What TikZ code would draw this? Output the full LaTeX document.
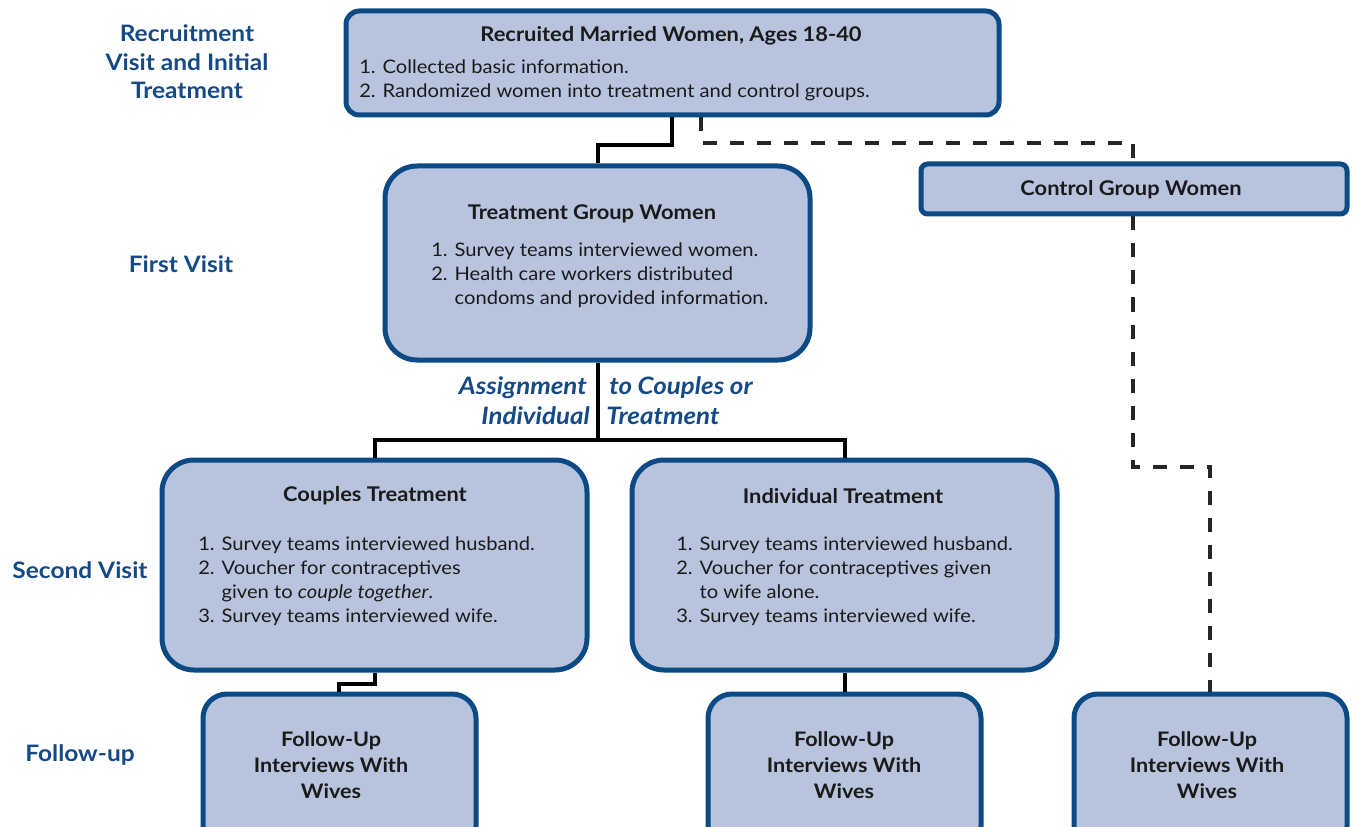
\documentclass[tikz,border=0pt]{standalone}
\usepackage{fontspec}
\setmainfont{Lato}[FakeStretch=1.08]
\usetikzlibrary{fit}
\definecolor{boxfill}{HTML}{B8C4DD}
\definecolor{boxline}{HTML}{0B4A85}
\definecolor{lbl}{HTML}{164A86}
\definecolor{txt}{HTML}{1A1A1A}
\tikzset{
  box/.style={draw=boxline, fill=boxfill, line width=3.75pt, inner sep=0pt},
  ttl/.style={font=\fontsize{15.2}{19}\selectfont\bfseries, text=txt, inner sep=0pt},
  fut/.style={font=\fontsize{15}{19.5}\selectfont\bfseries, text=txt, inner sep=0pt, align=center},
  lst/.style={font=\fontsize{14}{18}\selectfont, text=txt, align=left, inner sep=0pt, anchor=west},
  side/.style={font=\fontsize{17}{21.5}\selectfont\bfseries, text=lbl, align=center, inner sep=0pt},
  asg/.style={font=\fontsize{18}{21}\selectfont\bfseries\itshape, text=lbl, inner sep=0pt},
  conn/.style={line width=2.3pt, draw=black},
  dconn/.style={line width=2.3pt, draw=black!85, dash pattern=on 10.5pt off 9.75pt},
}
\begin{document}
\begin{tikzpicture}[x=0.75pt,y=-0.75pt]
\useasboundingbox (0,0) rectangle (1356,827);
\clip (0,0) rectangle (1356,827);
\fill[white] (0,0) rectangle (1356,827);

% boxes
\node[box, rounded corners=10pt, fit={(346,11) (999,115)}] (top) {};
\node[box, rounded corners=24pt, fit={(385,166) (810,360)}] (treat) {};
\node[box, rounded corners=5pt, fit={(921,164) (1347,214)}] (ctrl) {};
\node[box, rounded corners=24pt, fit={(162,460) (587,670)}] (coup) {};
\node[box, rounded corners=24pt, fit={(632,460) (1057,670)}] (indiv) {};
\node[box, rounded corners=18pt, fit={(203,694) (476,850)}] (fu1) {};
\node[box, rounded corners=18pt, fit={(708,694) (981,850)}] (fu2) {};
\node[box, rounded corners=18pt, fit={(1074,694) (1347,850)}] (fu3) {};

% texts in boxes
\node[ttl] (topt) at (671,36) {Recruited Married Women, Ages 18-40};
\node[lst] (topl) at (359,80) {1. Collected basic information.\\2. Randomized women into treatment and control groups.};
\node[ttl] (treatt) at (592,214) {Treatment Group Women};
\node[lst] (treatl) at (431,275) {1. Survey teams interviewed women.\\2. Health care workers distributed\\\phantom{2. }condoms and provided information.};
\node[ttl] (ctrlt) at (1131,190) {Control Group Women};
\node[ttl] (coupt) at (375,496) {Couples Treatment};
\node[lst] (coupl) at (198,581) {1. Survey teams interviewed husband.\\2. Voucher for contraceptives\\\phantom{2. }given to \textit{couple together}.\\3. Survey teams interviewed wife.};
\node[ttl] (indivt) at (843,496) {Individual Treatment};
\node[lst] (indivl) at (676,581) {1. Survey teams interviewed husband.\\2. Voucher for contraceptives given\\\phantom{2. }to wife alone.\\3. Survey teams interviewed wife.};
\node[fut] (fu1t) at (331,765) {Follow-Up\\Interviews With\\Wives};
\node[fut] (fu2t) at (844,765) {Follow-Up\\Interviews With\\Wives};
\node[fut] (fu3t) at (1207,765) {Follow-Up\\Interviews With\\Wives};

% side labels
\node[side] (s1) at (187,62) {Recruitment\\Visit and Initial\\Treatment};
\node[side] (s2) at (181,264) {First Visit};
\node[side] (s3) at (80,570) {Second Visit};
\node[side] (s4) at (80,755) {Follow-up};

% assignment label
\node[asg, anchor=east] (a1) at (587,388) {Assignment};
\node[asg, anchor=west] (a2) at (609,388) {to Couples or};
\node[asg, anchor=east] (a3) at (590,416) {Individual};
\node[asg, anchor=west] (a4) at (606,416) {Treatment};

% coordinates
\coordinate (c1) at (672,145);
\coordinate (c2) at (598,145);
\coordinate (j) at (598,440);
\coordinate (jl) at (375,440);
\coordinate (jr) at (845,440);
\coordinate (c3) at (375,684);
\coordinate (c4) at (339,684);
\coordinate (d1) at (701,143);
\coordinate (d2) at (1133,143);
\coordinate (d3) at (1133,467);
\coordinate (d4) at (1210,467);

% solid connectors
\draw[conn] (top.south -| c1) -- (c1) -- (c2) -- (treat.north -| c2);
\draw[conn] (treat.south -| j) -- (j);
\draw[conn] (coup.north -| jl) -- (jl) -- (jr) -- (indiv.north -| jr);
\draw[conn] (coup.south -| c3) -- (c3) -- (c4) -- (fu1.north -| c4);
\draw[conn] (indiv.south -| jr) -- (fu2.north -| jr);

% dashed connectors
\draw[dconn] (top.south -| d1) -- (d1) -- (d2) -- (ctrl.north -| d2);
\draw[dconn] (ctrl.south -| d3) -- (d3) -- (d4) -- (fu3.north -| d4);
\end{tikzpicture}
\end{document}
